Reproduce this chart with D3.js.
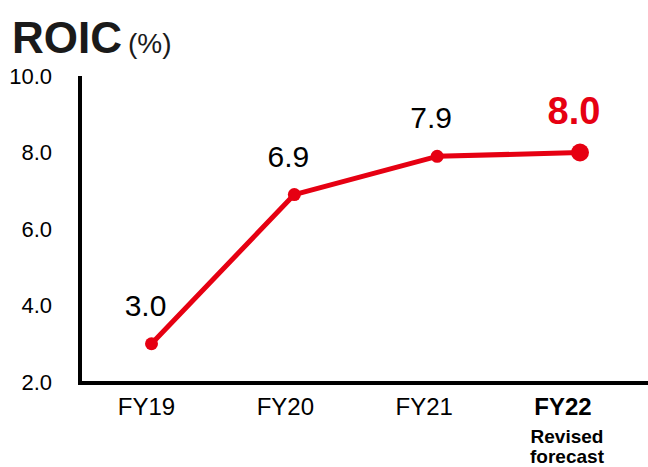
<!DOCTYPE html>
<html>
<head>
<meta charset="utf-8">
<script src="https://cdn.jsdelivr.net/npm/d3@7"></script>
<style>
  html, body { margin: 0; padding: 0; background: #fff; }
  svg { display: block; font-family: "Liberation Sans", Arial, sans-serif; }
</style>
</head>
<body>
<svg id="chart" width="648" height="467"></svg>
<script>
// ROIC by fiscal year (%)
const categories = ["FY19", "FY20", "FY21", "FY22"];
const roicValues = [3.0, 6.9, 7.9, 8.0];
const valueLabels = ["3.0", "6.9", "7.9", "8.0"];
const yTicks = [2, 4, 6, 8, 10];
const forecastNote = ["Revised", "forecast"];

const RED = "#e60012";
const svg = d3.select("#chart");

const y = d3.scaleLinear().domain([2, 10]).range([382, 76]);
const x = d3.scalePoint().domain(categories).range([151.5, 580]);
const xLabel = d3.scalePoint().domain(categories).range([146.5, 563]);

// Title
const title = svg.append("text").attr("x", 12).attr("y", 53).attr("fill", "#1a1a1a");
title.append("tspan").attr("font-size", 44).attr("font-weight", "bold").text("ROIC");
title.append("tspan").attr("font-size", 28).attr("dx", 6).text("(%)");

// Y axis
const yAxis = d3.axisLeft(y).tickValues(yTicks).tickFormat(d3.format(".1f")).tickSize(0).tickPadding(28);
const gy = svg.append("g").attr("transform", "translate(80,0)").call(yAxis);
gy.select(".domain").attr("stroke", "#000").attr("stroke-width", 4).attr("d", `M0,${y(10)}V${y(2) + 2}`);
gy.selectAll("text").attr("font-size", 22).attr("fill", "#000").attr("font-family", "Liberation Sans, Arial, sans-serif");

// X axis baseline
svg.append("line")
  .attr("x1", 78).attr("x2", 648)
  .attr("y1", y(2) + 1).attr("y2", y(2) + 1)
  .attr("stroke", "#000").attr("stroke-width", 4);

// X category labels
svg.append("g").selectAll("text").data(categories).join("text")
  .attr("x", d => xLabel(d))
  .attr("y", 415)
  .attr("text-anchor", "middle")
  .attr("font-size", 24)
  .attr("font-weight", (d, i) => i === categories.length - 1 ? "bold" : "normal")
  .attr("fill", "#000")
  .text(d => d);

svg.append("g").selectAll("text").data(forecastNote).join("text")
  .attr("x", xLabel(categories[categories.length - 1]) + 4)
  .attr("y", (d, i) => 443 + i * 20)
  .attr("text-anchor", "middle")
  .attr("font-size", 19)
  .attr("font-weight", "bold")
  .attr("fill", "#000")
  .text(d => d);

// Line
const data = categories.map((c, i) => ({ c, v: roicValues[i], label: valueLabels[i] }));
svg.append("path")
  .datum(data)
  .attr("fill", "none")
  .attr("stroke", RED)
  .attr("stroke-width", 5)
  .attr("stroke-linejoin", "round")
  .attr("d", d3.line().x(d => x(d.c)).y(d => y(d.v)));

// Markers
svg.append("g").selectAll("circle").data(data).join("circle")
  .attr("cx", d => x(d.c))
  .attr("cy", d => y(d.v))
  .attr("r", (d, i) => i === data.length - 1 ? 9 : 6.5)
  .attr("fill", RED);

// Value labels
svg.append("g").selectAll("text").data(data).join("text")
  .attr("x", d => x(d.c) - 6)
  .attr("y", (d, i) => i === data.length - 1 ? y(d.v) - 29 : y(d.v) - 28)
  .attr("text-anchor", "middle")
  .attr("font-size", (d, i) => i === data.length - 1 ? 38 : 30)
  .attr("font-weight", (d, i) => i === data.length - 1 ? "bold" : "normal")
  .attr("fill", (d, i) => i === data.length - 1 ? RED : "#000")
  .text(d => d.label);
</script>
</body>
</html>
